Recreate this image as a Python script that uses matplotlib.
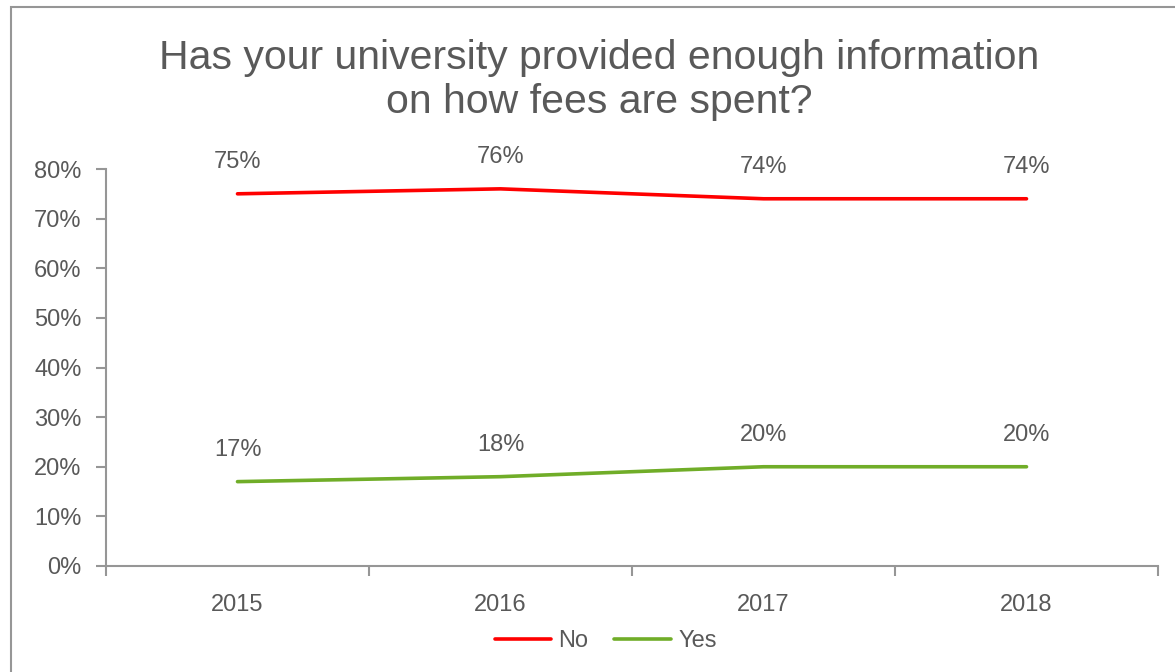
import numpy as np
import matplotlib.pyplot as plt
from matplotlib.patches import Rectangle

plt.rcParams['font.family'] = ['Liberation Sans', 'DejaVu Sans']

# survey results per year
years = ["2015", "2016", "2017", "2018"]
no_vals = [0.75, 0.76, 0.74, 0.74]
yes_vals = [0.17, 0.18, 0.20, 0.20]

grey = "#595959"
axis_grey = "#969696"

fig = plt.figure(figsize=(11.75, 6.72), dpi=100)
ax = fig.add_axes([106/1175, 1-566/672, (1158-106)/1175, (566-169)/672])

x = np.arange(len(years))
ax.plot(x, no_vals, color="#ff0000", lw=2.6, label="No", solid_capstyle="round")
ax.plot(x, yes_vals, color="#70ad28", lw=2.6, label="Yes", solid_capstyle="round")

for xi, v in zip(x, no_vals):
    ax.annotate(f"{v*100:.0f}%", (xi, v), xytext=(0, 23), textcoords="offset points",
                ha="center", va="center", fontsize=17, color=grey)
for xi, v in zip(x, yes_vals):
    ax.annotate(f"{v*100:.0f}%", (xi, v), xytext=(0, 23), textcoords="offset points",
                ha="center", va="center", fontsize=17, color=grey)

ax.set_xlim(-0.5, len(years) - 0.5)
ax.set_ylim(0, 0.8)
ax.set_yticks(np.arange(0, 0.81, 0.1))
ax.set_yticklabels([f"{t*100:.0f}%" for t in np.arange(0, 0.81, 0.1)])
ax.set_xticks(x)
ax.set_xticklabels(years)
ax.set_xticks(np.arange(-0.5, len(years), 1.0), minor=True)
ax.tick_params(axis="x", which="major", length=0, pad=20, labelsize=17, labelcolor=grey)
ax.tick_params(axis="x", which="minor", length=7, width=1.5, color=axis_grey, direction="out")
ax.tick_params(axis="y", length=7.5, width=1.5, color=axis_grey, labelsize=17, labelcolor=grey, pad=10)

for side in ["top", "right"]:
    ax.spines[side].set_visible(False)
for side in ["left", "bottom"]:
    ax.spines[side].set_color(axis_grey)
    ax.spines[side].set_linewidth(1.5)

fig.text(0.51, 1-80/672, "Has your university provided enough information\non how fees are spent?",
         ha="center", va="center", fontsize=29.5, color=grey, linespacing=1.2)

ax.legend(loc="center", bbox_to_anchor=(0.475, (566-641)/(566-169)), ncol=2, frameon=False,
          fontsize=17, labelcolor=grey, handlelength=2.4, columnspacing=1.1, handletextpad=0.3)

# chart frame
fig.patches.append(Rectangle((11/1175, -0.1), 1.2, 1.1 - 7/672, transform=fig.transFigure,
                             fill=False, edgecolor=axis_grey, lw=1.5))

fig.savefig("out.png", dpi=100)
